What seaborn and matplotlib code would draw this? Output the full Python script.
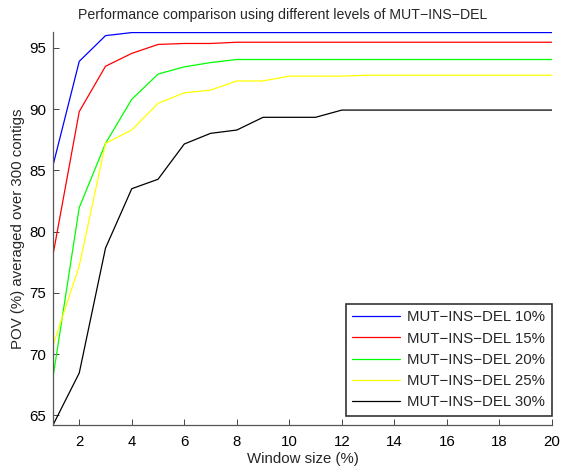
import matplotlib
matplotlib.use("Agg")
import matplotlib.pyplot as plt
import pandas as pd
import seaborn as sns

# window sizes (%)
window = list(range(1, 21))

pov_10 = [85.4, 93.9, 96.0, 96.25] + [96.25] * 16
pov_15 = [78.1, 89.8, 93.5, 94.55, 95.28, 95.36, 95.36] + [95.46] * 13
pov_20 = [68.1, 81.96, 87.2, 90.8, 92.86, 93.45, 93.8] + [94.05] * 13
pov_25 = [70.7, 77.2, 87.2, 88.3, 90.47, 91.33, 91.55, 92.3, 92.3,
          92.69, 92.69, 92.69] + [92.77] * 8
pov_30 = [64.2, 68.45, 78.65, 83.5, 84.27, 87.15, 88.02, 88.29, 89.33,
          89.33, 89.33] + [89.92] * 9

labels = ["MUT\u2212INS\u2212DEL 10%", "MUT\u2212INS\u2212DEL 15%",
          "MUT\u2212INS\u2212DEL 20%", "MUT\u2212INS\u2212DEL 25%",
          "MUT\u2212INS\u2212DEL 30%"]
series = [pov_10, pov_15, pov_20, pov_25, pov_30]
colors = ["#0000ff", "#ff0000", "#00ff00", "#ffff00", "#000000"]

df = pd.concat(
    [pd.DataFrame({"window": window, "pov": vals, "level": lab})
     for lab, vals in zip(labels, series)],
    ignore_index=True,
)

sns.set_style("white")
plt.rcParams["font.family"] = ["Liberation Sans", "DejaVu Sans"]
fs = 10.8

fig = plt.figure(figsize=(5.62, 4.70), dpi=100)
ax = fig.add_axes([0.0943, 0.0957, 0.8877, 0.8363])

sns.lineplot(data=df, x="window", y="pov", hue="level", palette=colors,
             linewidth=0.9, ax=ax)

ax.set_xlim(1, 20)
ax.set_ylim(64.2, 96.3)
ax.set_xticks(range(2, 21, 2))
ax.set_yticks(range(65, 96, 5))
ax.tick_params(bottom=True, left=True, direction="in", length=4, width=0.7,
               labelsize=fs, colors="#444444", labelcolor="black")
ax.tick_params(axis="x", pad=7)
ax.tick_params(axis="y", pad=5)
for side in ["top", "right"]:
    ax.spines[side].set_visible(False)
for side in ["left", "bottom"]:
    ax.spines[side].set_color("#555555")
    ax.spines[side].set_linewidth(0.9)

ax.set_xlabel("Window size (%)", fontsize=fs, labelpad=2)
ax.set_ylabel("POV (%) averaged over 300 contigs", fontsize=fs, labelpad=3)
ax.set_title("Performance comparison using different levels of MUT\u2212INS\u2212DEL",
             fontsize=10.2, pad=9, x=0.46)

leg = ax.legend(loc="lower right", bbox_to_anchor=(1.0, 0.023),
                fontsize=fs, frameon=True, fancybox=False,
                handlelength=3.2, labelspacing=0.48, borderaxespad=0,
                handletextpad=0.45, borderpad=0.45)
leg.get_frame().set_edgecolor("black")
leg.get_frame().set_linewidth(1.2)

fig.savefig("out.png", dpi=100)
